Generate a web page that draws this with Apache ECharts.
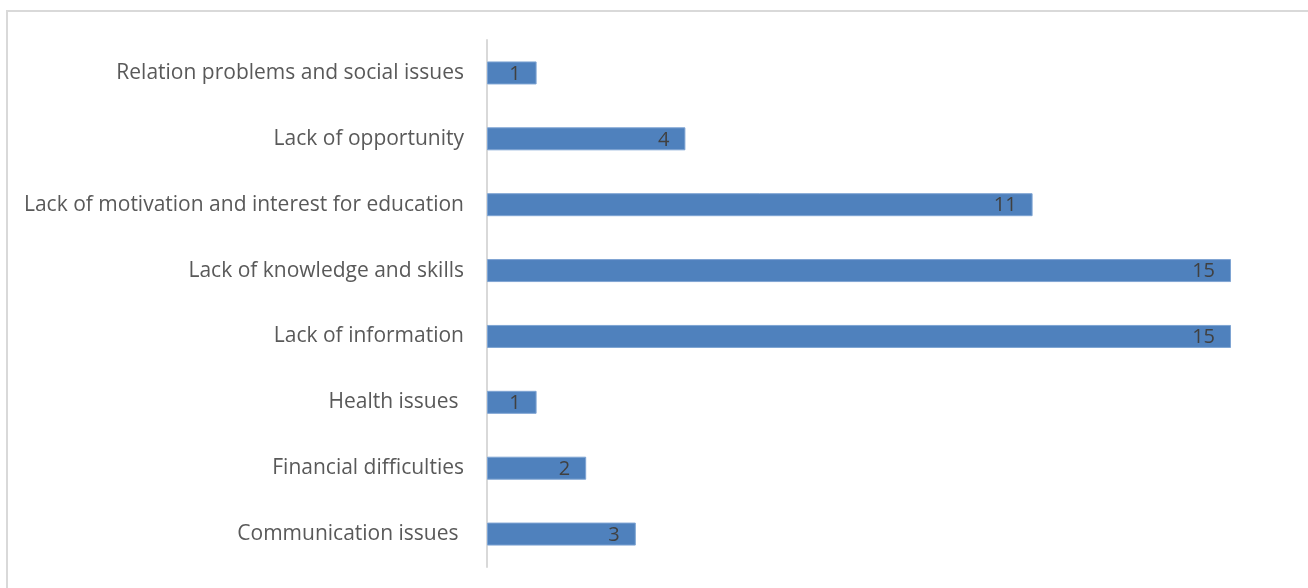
<!DOCTYPE html>
<html>
<head>
<meta charset="utf-8">
<script src="https://cdn.jsdelivr.net/npm/echarts@6/dist/echarts.min.js"></script>
<style>
  html, body { margin: 0; padding: 0; background: #ffffff; }
  #chart { width: 1308px; height: 588px; }
</style>
</head>
<body>
<div id="chart"></div>
<script>
// Reasons reported, listed bottom to top as drawn on the category axis
const categories = [
  'Communication issues ',
  'Financial difficulties',
  'Health issues ',
  'Lack of information',
  'Lack of knowledge and skills',
  'Lack of motivation and interest for education',
  'Lack of opportunity',
  'Relation problems and social issues'
];
const counts = [3, 2, 1, 15, 15, 11, 4, 1];

const chart = echarts.init(document.getElementById('chart'), null, { renderer: 'canvas' });

chart.setOption({
  animation: false,
  backgroundColor: '#ffffff',
  graphic: [{
    type: 'rect',
    shape: { x: 7, y: 11, width: 1320, height: 600 },
    style: { fill: 'none', stroke: '#d9d9d9', lineWidth: 2 },
    silent: true
  }],
  grid: { left: 487, right: 77, top: 40, bottom: 21, containLabel: false },
  xAxis: {
    type: 'value',
    min: 0,
    max: 15,
    show: false
  },
  yAxis: {
    type: 'category',
    data: categories,
    axisLine: { show: true, lineStyle: { color: '#d9d9d9', width: 2 } },
    axisTick: { show: false },
    axisLabel: {
      color: '#595959',
      fontFamily: 'Open Sans',
      fontSize: 21,
      margin: 23,
      padding: [4, 0, 0, 0]
    }
  },
  series: [{
    type: 'bar',
    data: counts,
    barWidth: 23,
    itemStyle: { color: '#4f81bd', borderColor: '#7ea4d3', borderWidth: 1 },
    label: {
      show: true,
      position: 'insideRight',
      distance: 16,
      offset: [0, 1],
      color: '#404040',
      fontFamily: 'Open Sans',
      fontSize: 20
    }
  }]
});
</script>
</body>
</html>
